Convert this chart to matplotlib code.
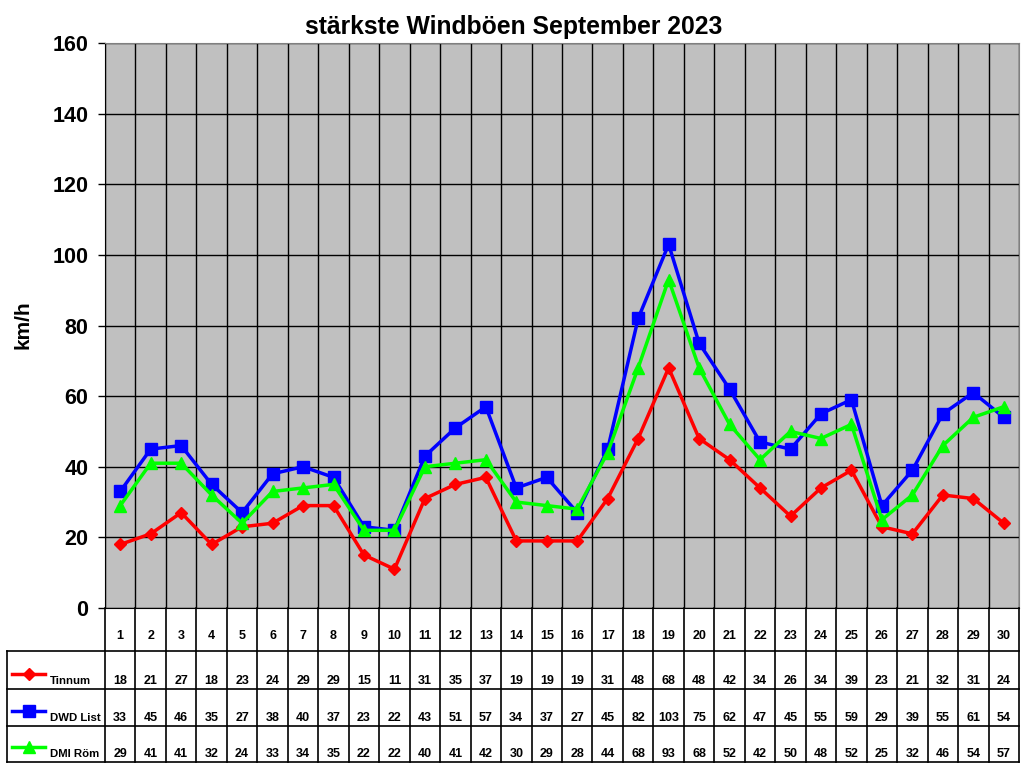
import matplotlib
matplotlib.use("Agg")
import matplotlib.pyplot as plt

plt.rcParams['font.family'] = ['Liberation Sans', 'DejaVu Sans']

# Daten
tage = list(range(1, 31))
tinnum = [18, 21, 27, 18, 23, 24, 29, 29, 15, 11, 31, 35, 37, 19, 19, 19, 31, 48, 68, 48,
          42, 34, 26, 34, 39, 23, 21, 32, 31, 24]
dwd_list = [33, 45, 46, 35, 27, 38, 40, 37, 23, 22, 43, 51, 57, 34, 37, 27, 45, 82, 103, 75,
            62, 47, 45, 55, 59, 29, 39, 55, 61, 54]
dmi_roem = [29, 41, 41, 32, 24, 33, 34, 35, 22, 22, 40, 41, 42, 30, 29, 28, 44, 68, 93, 68,
            52, 42, 50, 48, 52, 25, 32, 46, 54, 57]
namen = ["Tinnum", "DWD List", "DMI Röm"]
farben = ["#FF0000", "#0000FF", "#00FF00"]
marker = ["D", "s", "^"]
msize = [6.5, 8, 8.5]
reihen = [tinnum, dwd_list, dmi_roem]

W, H = 1024, 768
fig = plt.figure(figsize=(W / 100, H / 100), dpi=100)
fig.patch.set_facecolor("white")

# Diagramm
L, R, T, B = 105, 1019, 43, 608
ax = fig.add_axes([L / W, 1 - B / H, (R - L) / W, (B - T) / H])
ax.set_facecolor("#C0C0C0")
for y, f, m, s in zip(reihen, farben, marker, msize):
    ax.plot(tage, y, color=f, lw=2.5, marker=m, markersize=s, zorder=3)
ax.set_xlim(0.5, 30.5)
ax.set_ylim(0, 160)
ax.set_yticks(range(0, 161, 20))
ax.set_yticklabels([str(v) for v in range(0, 161, 20)], fontsize=15.5, fontweight="bold")
ax.set_xticks([i + 0.5 for i in range(0, 31)])
ax.set_xticklabels([])
ax.tick_params(axis="x", length=0)
ax.tick_params(axis="y", length=5, width=1, direction="out", pad=7)
ax.grid(True, color="black", lw=1, zorder=1)
ax.spines["left"].set_color("black")
ax.spines["bottom"].set_color("black")
ax.spines["top"].set_color("#808080")
ax.spines["right"].set_color("#808080")
fig.text(23 / W, 1 - 325 / H, "km/h", rotation=90, ha="center", va="center",
         fontsize=15, fontweight="bold")
fig.text(514 / W, 1 - 27 / H, "stärkste Windböen September 2023",
         ha="center", va="center", fontsize=17.8, fontweight="bold")

# Tabelle
tb = 762
tax = fig.add_axes([L / W, 1 - tb / H, (R - L) / W, (tb - B) / H])
tax.set_xlim(0.5, 30.5)
tax.set_ylim(tb, B)
tax.axis("off")
px = 30 / (R - L)
x_left = 0.5 - (L - 7) * px
zeilen = [B, 651, 689, 726, tb]
for yy in zeilen[1:]:
    tax.plot([x_left, 30.5], [yy, yy], color="black", lw=1.2, clip_on=False)
tax.plot([x_left, x_left], [651, tb], color="black", lw=1.2, clip_on=False)
for i in range(31):
    tax.plot([i + 0.5, i + 0.5], [B, tb], color="black", lw=1.2, clip_on=False)

for t in tage:
    tax.text(t, 636, str(t), ha="center", va="center", fontsize=9, fontweight="bold")
for k, (y, f, m, s, n) in enumerate(zip(reihen, farben, marker, msize, namen)):
    yt = zeilen[k + 2] - 8
    for t, v in zip(tage, y):
        tax.text(t, yt, str(v), ha="center", va="center", fontsize=9, fontweight="bold")
    ym = zeilen[k + 2] - 15
    x1 = x_left + 5 * px
    x2 = x_left + 38 * px
    tax.plot([x1, x2], [ym, ym], color=f, lw=2.5, clip_on=False)
    tax.plot([(x1 + x2) / 2], [ym], color=f, marker=m, markersize=s, clip_on=False)
    tax.text(x_left + 43 * px, yt, n, ha="left", va="center", fontsize=8.2, fontweight="bold")

fig.savefig("out.png", dpi=100)
